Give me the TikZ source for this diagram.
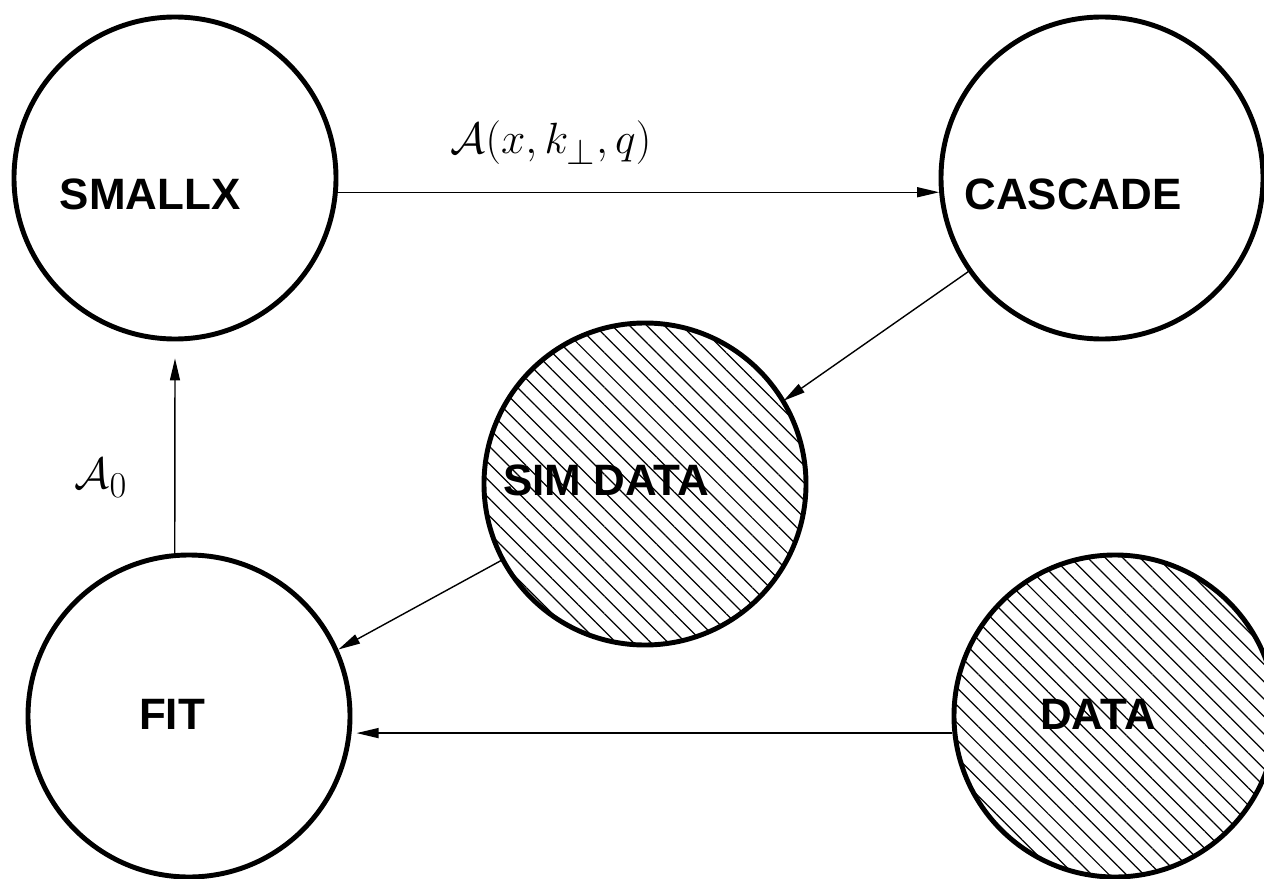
\documentclass[tikz,border=0pt]{standalone}
\usepackage{amssymb, amsmath}
\usepackage{fontspec}
\setsansfont{Liberation Sans}
\usepackage{tikz}
\usetikzlibrary{arrows.meta}
\usetikzlibrary{patterns.meta}

\begin{document}
\begin{tikzpicture}[>={Triangle[length=0.44cm, width=0.2cm]},
    bubble/.style={circle, draw, line width=2.8pt, minimum size=6.44cm, inner sep=0pt},
    hatched/.style={bubble, pattern={Lines[angle=-45, distance=7pt, line width=0.7pt]}},
    tag/.style={font=\sffamily\bfseries\fontsize{25}{30}\selectfont},
    flow/.style={->, line width=0.8pt}]
    \useasboundingbox (0, 0) rectangle (25.28, -17.58);
    % programs and data sets
    \node [bubble]  (0) at (3.5, -3.56) {};
    \node [bubble]  (1) at (22.04, -3.56) {};
    \node [hatched] (2) at (12.9, -9.68) {};
    \node [bubble]  (3) at (3.78, -14.32) {};
    \node [hatched] (4) at (22.3, -14.32) {};
    \node [tag] (5) at (3.0, -3.88) {SMALLX};
    \node [tag] (6) at (21.46, -3.88) {CASCADE};
    \node [tag] (7) at (12.12, -9.6) {SIM DATA};
    \node [tag] (8) at (3.44, -14.28) {FIT};
    \node [tag] (9) at (21.96, -14.28) {DATA};
    % loop
    \draw [flow] (0.-5) to (1.185);
    \draw [flow] (1.215) to (2.31);
    \draw [flow] (2.208) to (3.24);
    \draw [flow] (4.186) to ([xshift=0.1cm]3.-6);
    \draw [flow] (3.95) to ([yshift=-0.34cm]0.south);
    % labels
    \node (10) at (11.02, -2.86) {\fontsize{28}{32}\selectfont $\mathcal{A}(x, k_\perp, q)$};
    \node (11) at (2.02, -9.56) {\fontsize{28}{32}\selectfont $\mathcal{A}_0$};
\end{tikzpicture}
\end{document}
